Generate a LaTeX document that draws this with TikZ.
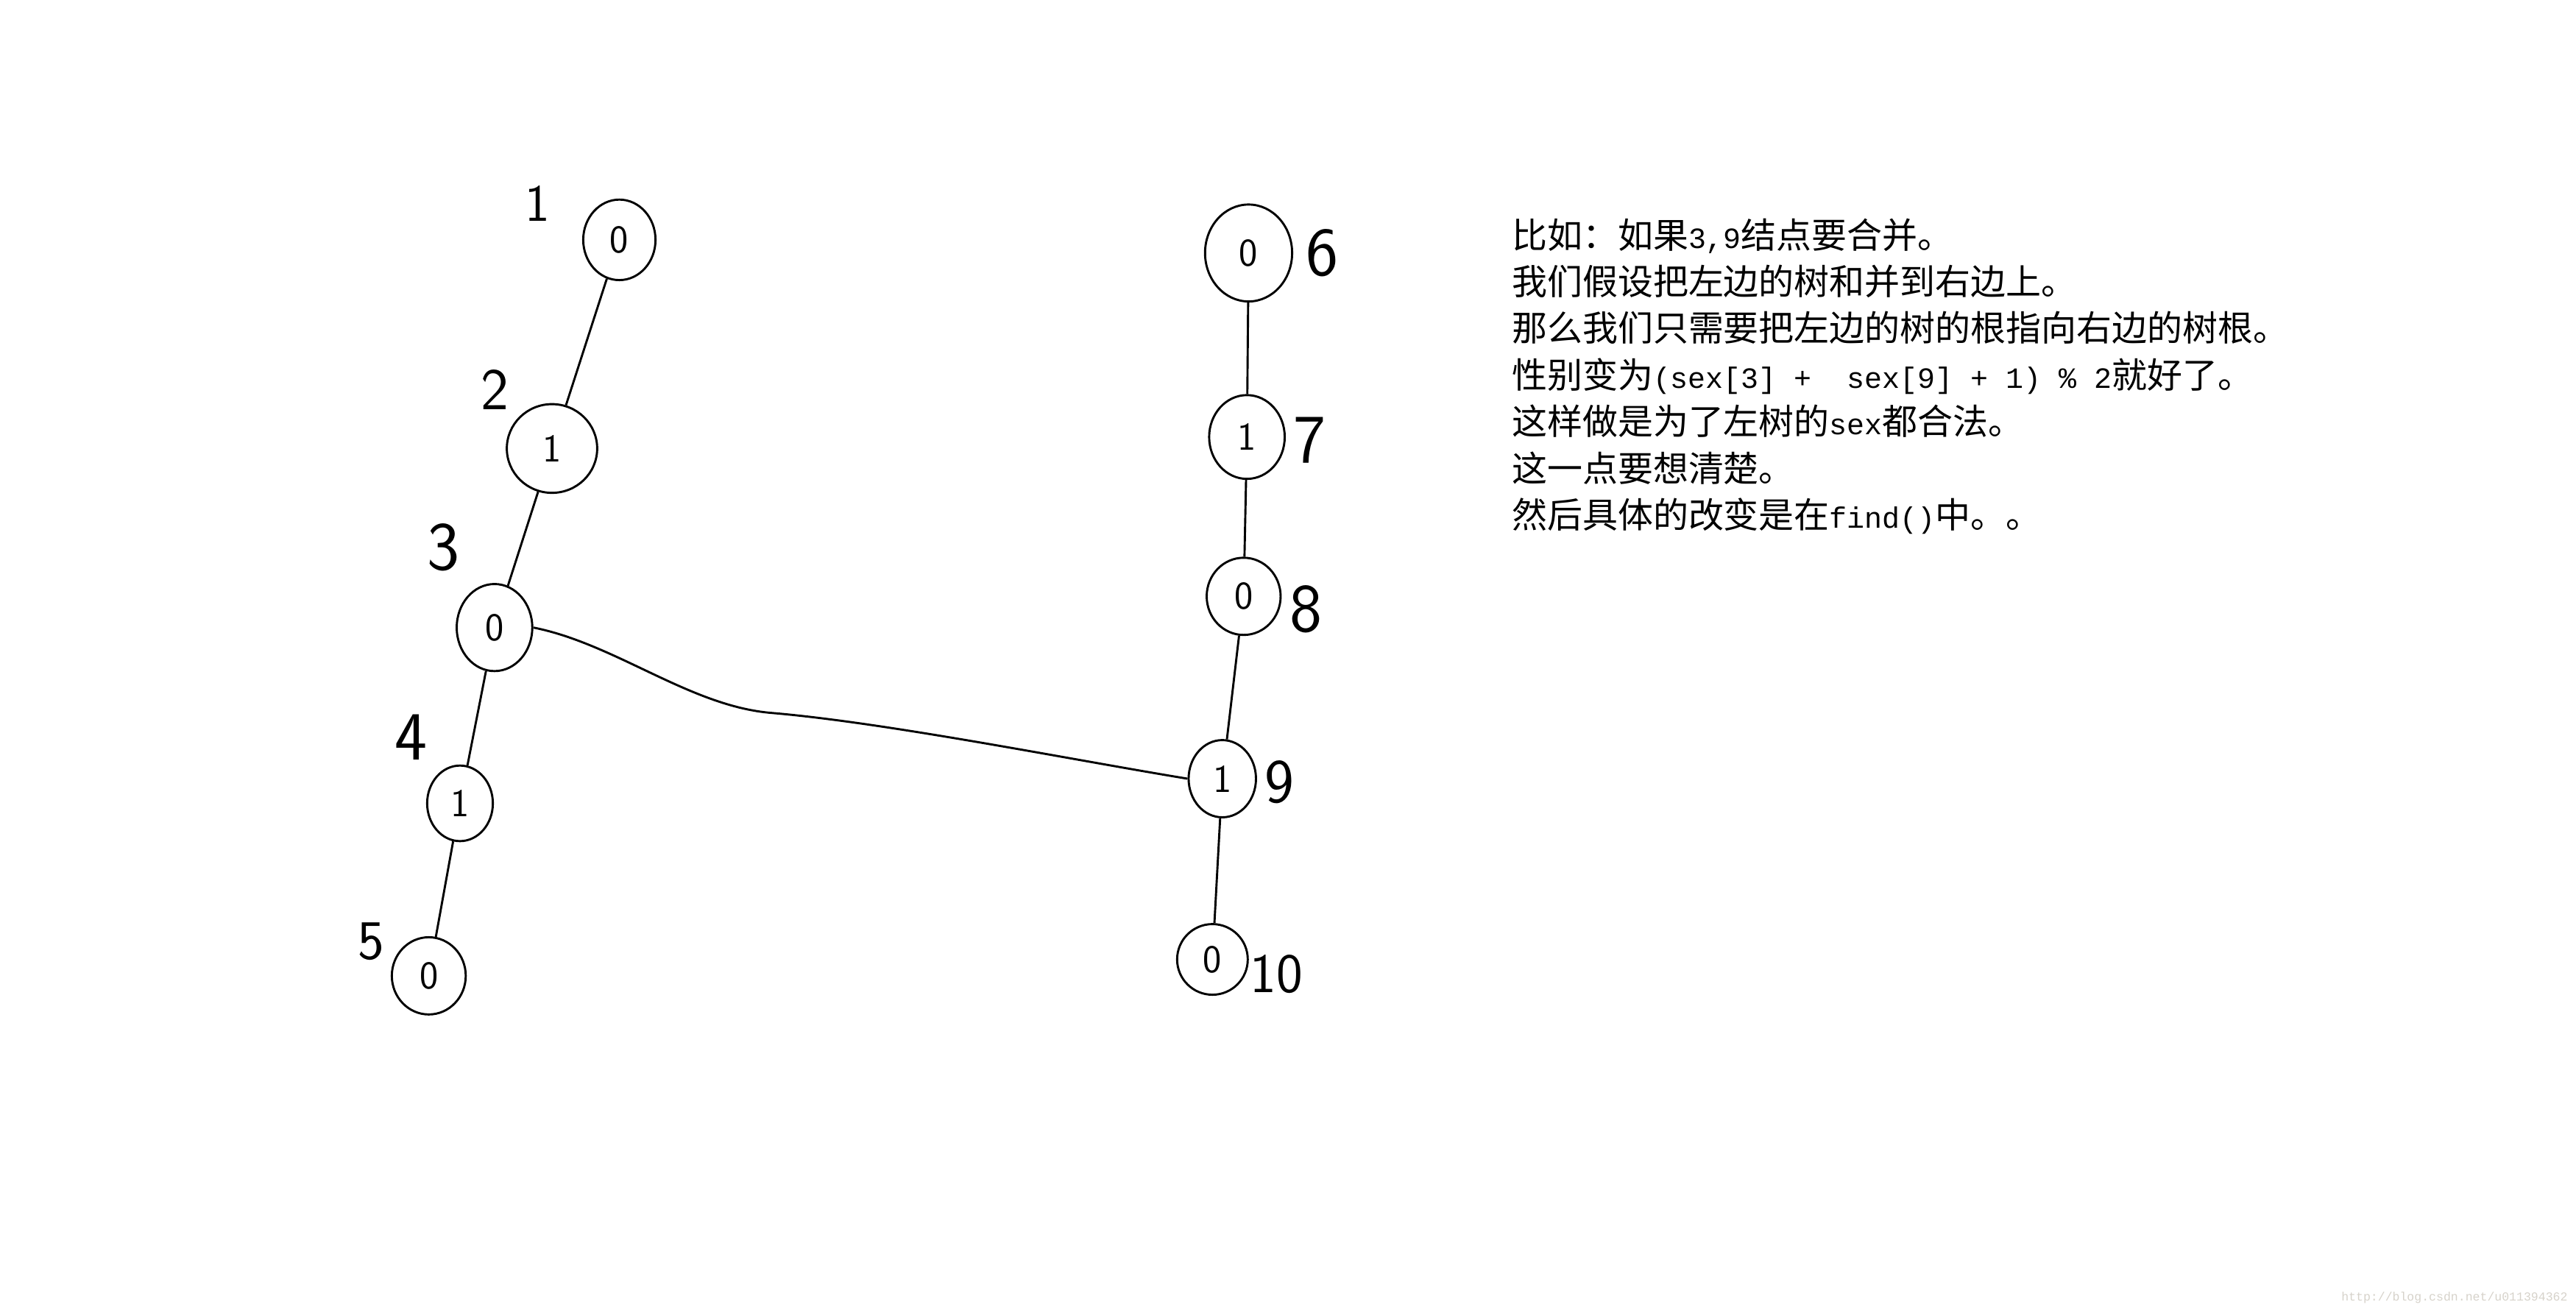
\documentclass[tikz,border=0pt]{standalone}
\usepackage{fontspec}
\usepackage{tikz}
\usetikzlibrary{positioning,shapes.geometric}
\newfontfamily\cjk{Noto Sans CJK SC}
\newfontfamily\halfw{Liberation Mono}
\newcommand{\hw}[1]{{\halfw\fontsize{17.9pt}{28pt}\selectfont #1}}
\definecolor{markgray}{HTML}{D6D2CA}
\tikzset{
  vertex/.style 2 args={ellipse,draw,line width=1.3pt,minimum width=#1,minimum height=#2,inner sep=0pt,
    font=\sffamily\fontsize{24pt}{24pt}\selectfont},
  tag/.style={inner sep=0pt,font=\sffamily\fontsize{#1}{#1}\selectfont},
  tag/.default=36pt,
  link/.style={line width=1.3pt},
  textline/.style={inner sep=0pt,text height=19pt,text depth=9pt,font=\cjk\fontsize{21.5pt}{28pt}\selectfont},
  watermark/.style={inner sep=0pt,text=markgray,font=\halfw\fontsize{7.4pt}{8pt}\selectfont}
}
\begin{document}
\begin{tikzpicture}[x=1pt,y=-1pt]
\useasboundingbox (0,0) rectangle (1568,799);
% left tree
\node[vertex={44pt}{49pt}] (v1) at (377,146) {0};
\node[vertex={55pt}{54pt}] (v2) at (336,273) {1};
\node[vertex={46pt}{53pt}] (v3) at (301,382) {0};
\node[vertex={40pt}{46pt}] (v4) at (280,489) {1};
\node[vertex={45pt}{47pt}] (v5) at (261,594) {0};
\node[tag=32pt] (l1) at (327,124) {1};
\node[tag=36pt] (l2) at (301,237) {2};
\node[tag=42pt] (l3) at (270,333) {3};
\node[tag=42pt] (l4) at (250,449) {4};
\node[tag=34pt] (l5) at (226,573) {5};
\draw[link] (v1) -- (v2);
\draw[link] (v2) -- (v3);
\draw[link] (v3) -- (v4);
\draw[link] (v4) -- (v5);
% right tree
\node[vertex={53pt}{59pt}] (v6) at (760,154) {0};
\node[vertex={46pt}{51pt}] (v7) at (759,266) {1};
\node[vertex={45pt}{47pt}] (v8) at (757,363) {0};
\node[vertex={41pt}{47pt}] (v9) at (744,474) {1};
\node[vertex={43pt}{43pt}] (v10) at (738,584) {0};
\node[tag=42pt] (l6) at (805,154) {6};
\node[tag=42pt] (l7) at (797,268) {7};
\node[tag=42pt] (l8) at (795,371) {8};
\node[tag=38pt] (l9) at (779,476) {9};
\node[tag=34pt] (l10) at (777,593) {10};
\draw[link] (v6) -- (v7);
\draw[link] (v7) -- (v8);
\draw[link] (v8) -- (v9);
\draw[link] (v9) -- (v10);
% merge 3 -> 9
\draw[link] (v3.east) .. controls (375,392) and (420,430) .. (470,434)
  .. controls (540,440) and (650,462) .. (v9.west);
% note
\node[textline,anchor=base west] (t1) at (920,151) {比如：如果\hw{3,9}结点要合并。};
\node[textline,below=0pt of t1.south west,anchor=north west] (t2) {我们假设把左边的树和并到右边上。};
\node[textline,below=0pt of t2.south west,anchor=north west] (t3) {那么我们只需要把左边的树的根指向右边的树根。};
\node[textline,below=0pt of t3.south west,anchor=north west] (t4) {性别变为\hw{(sex[3]~+~~sex[9]~+~1)~\%~2}就好了。};
\node[textline,below=0pt of t4.south west,anchor=north west] (t5) {这样做是为了左树的\hw{sex}都合法。};
\node[textline,below=0pt of t5.south west,anchor=north west] (t6) {这一点要想清楚。};
\node[textline,below=0pt of t6.south west,anchor=north west] (t7) {然后具体的改变是在\hw{find()}中。。};
\node[watermark,anchor=west] (url) at (1425,790) {http://blog.csdn.net/u011394362};
\end{tikzpicture}
\end{document}
